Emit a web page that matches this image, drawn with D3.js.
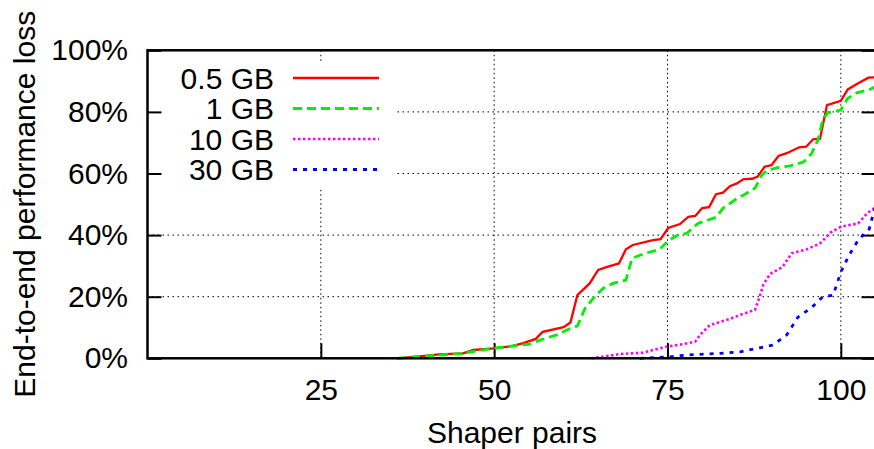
<!DOCTYPE html>
<html>
<head>
<meta charset="utf-8">
<script src="https://cdn.jsdelivr.net/npm/d3@7"></script>
<style>
  html, body { margin: 0; padding: 0; background: #fff; }
  svg { display: block; font-family: "Liberation Sans", Arial, Helvetica, sans-serif; }
</style>
</head>
<body>
<svg id="chart" width="874" height="449"></svg>
<script>
// ---- data ----
const xTicks = [25, 50, 75, 100];
const yTicks = [0, 20, 40, 60, 80, 100];
const seriesNames = ["0.5 GB", "1 GB", "10 GB", "30 GB"];

const gb05X = [36, 40, 42, 45.5, 47, 50, 52.7, 54.2, 56, 57, 60, 61, 62, 63.8, 65, 66.3, 68, 69, 70, 72.9, 74, 75.1, 76.8, 78, 79, 80, 81, 82, 83, 84, 85, 86, 87.2, 88, 89, 90, 91, 92.2, 94, 95, 96, 97, 98, 100, 101, 102.5, 104, 105];
const gb05Y = [0, 0.8, 1.3, 1.6, 2.7, 3.2, 4.0, 4.9, 6.3, 8.6, 10.1, 11.6, 20.5, 24.4, 28.7, 29.7, 30.8, 35.4, 36.8, 38.4, 38.7, 42.3, 43.6, 45.9, 46.2, 48.8, 49.1, 53.3, 53.8, 55.9, 56.8, 58.2, 58.3, 59, 62.2, 62.7, 65.7, 66.6, 68.5, 68.7, 71.1, 71.3, 82.2, 83.6, 87.3, 89.3, 91.1, 91.2];

const gb1X = [36, 40, 45, 49.4, 52.7, 55.2, 56.6, 59, 60.5, 62, 63.1, 64.3, 65.7, 67.2, 69, 69.9, 71.8, 73.9, 75.1, 76.5, 77.8, 79.4, 82, 83, 84.7, 86.2, 87.6, 88.6, 89.3, 90.8, 92.7, 94.6, 95.8, 96.7, 97.4, 98.1, 100, 101, 102.3, 104.2, 105];
const gb1Y = [0, 0.7, 1.5, 3.1, 4.0, 4.6, 5.9, 7.6, 9.2, 10.5, 16.2, 19.5, 22.7, 24.4, 25.4, 32.5, 34.1, 35.4, 38.2, 40, 40.6, 43.8, 45.8, 48.7, 51.4, 53.3, 55.2, 59.5, 60.9, 61.9, 62.5, 63.7, 66.6, 70.9, 77.4, 79.7, 80.6, 84.4, 86.2, 87.3, 88.2];

const gb10X = [64, 66, 68.2, 71.5, 72.9, 74.9, 77.3, 79, 79.7, 81.1, 84, 85.5, 87.6, 88.3, 88.8, 89.8, 91.6, 92.9, 95.1, 97, 98.5, 100, 102.5, 103.8, 105];
const gb10Y = [0, 0.6, 1.4, 1.8, 2.7, 3.8, 4.6, 5.4, 7.6, 10.8, 12.8, 14.1, 15.7, 20, 23.8, 27.4, 29.7, 34.1, 35.4, 37.3, 40.8, 42.7, 43.8, 47.1, 49];

const gb30X = [71, 75, 77.8, 82.6, 85.5, 88.3, 90.2, 92.2, 93.8, 95.8, 97.4, 98.9, 100, 101.2, 102.4, 103.4, 104.1, 104.8, 105];
const gb30Y = [0, 0.4, 1.1, 1.6, 2.1, 3.4, 4.3, 7.6, 13.3, 16.5, 20, 20.5, 28, 33.5, 38, 40.5, 42, 48, 49];

// ---- layout ----
const FS = 30;
const svg = d3.select("#chart");
const L = 147.5, R = 875.5, T = 50.3, B = 358.3;
const x = d3.scaleLinear().domain([0, 105]).range([L, R]);
const y = d3.scaleLinear().domain([0, 100]).range([B, T]);

// grid
const grid = svg.append("g");
grid.selectAll("line.gx").data(xTicks).join("line")
  .attr("x1", d => x(d)).attr("x2", d => x(d)).attr("y1", T).attr("y2", B)
  .attr("stroke", "#000").attr("stroke-width", 1).attr("stroke-dasharray", "1.5,3");
grid.selectAll("line.gy").data(yTicks.filter(d => d > 0 && d < 100)).join("line")
  .attr("x1", L).attr("x2", R).attr("y1", d => y(d)).attr("y2", d => y(d))
  .attr("stroke", "#000").attr("stroke-width", 1).attr("stroke-dasharray", "1.5,3.5");

// opaque key box
svg.append("rect").attr("x", L + 1.5).attr("y", 63).attr("width", 396 - L - 1.5).attr("height", 187 - 63)
  .attr("fill", "#fff");

// axes with inward ticks
const axL = svg.append("g").attr("transform", `translate(${L},0)`)
  .call(d3.axisLeft(y).tickValues(yTicks).tickSize(-14).tickPadding(19.5).tickFormat(d => d + "%"));
const axB = svg.append("g").attr("transform", `translate(0,${B})`)
  .call(d3.axisBottom(x).tickValues(xTicks).tickSize(-15).tickPadding(20));
const axR = svg.append("g").attr("transform", `translate(${R},0)`)
  .call(d3.axisRight(y).tickValues(yTicks).tickSize(-14).tickFormat(""));
[axL, axB, axR].forEach(a => {
  a.select(".domain").remove();
  a.selectAll(".tick line").attr("stroke", "#000").attr("stroke-width", 2);
  a.selectAll(".tick text").attr("fill", "#000").attr("font-size", FS)
    .attr("font-family", "'Liberation Sans', Arial, sans-serif");
});

// series
const styles = [
  { color: "#ff0000", dash: null, w: 2.3 },
  { color: "#00f000", dash: "9,5", w: 2.8 },
  { color: "#ff00ff", dash: "2.5,2.5", w: 2.6 },
  { color: "#0000ff", dash: "4,6", w: 2.8 }
];
const seriesData = [[gb05X, gb05Y], [gb1X, gb1Y], [gb10X, gb10Y], [gb30X, gb30Y]];
svg.append("clipPath").attr("id", "clip").append("rect")
  .attr("x", L).attr("y", T - 2).attr("width", R - L).attr("height", B - T + 4);
const line = d3.line().x(d => x(d[0])).y(d => y(d[1]));
const plot = svg.append("g").attr("clip-path", "url(#clip)");
seriesData.forEach((s, i) => {
  const pts = s[0].map((v, j) => [v, s[1][j]]);
  plot.append("path").datum(pts).attr("d", line)
    .attr("fill", "none").attr("stroke", styles[i].color).attr("stroke-width", styles[i].w)
    .attr("stroke-dasharray", styles[i].dash).attr("stroke-linejoin", "miter");
});

// border
svg.append("rect").attr("x", L).attr("y", T).attr("width", R - L).attr("height", B - T)
  .attr("fill", "none").attr("stroke", "#000").attr("stroke-width", 2.5);

// key
const key = svg.append("g");
seriesNames.forEach((n, i) => {
  const cy = 78 + i * 30.5;
  key.append("text").attr("x", 274).attr("y", cy).attr("dy", "0.35em")
    .attr("text-anchor", "end").attr("font-size", FS).attr("fill", "#000").text(n);
  key.append("line").attr("x1", 293).attr("x2", 379).attr("y1", cy).attr("y2", cy)
    .attr("stroke", styles[i].color).attr("stroke-width", styles[i].w)
    .attr("stroke-dasharray", styles[i].dash);
});

// axis titles
svg.append("text").attr("x", (L + R) / 2 + 0.5).attr("y", 443).attr("text-anchor", "middle")
  .attr("font-size", FS).attr("fill", "#000").text("Shaper pairs");
svg.append("text").attr("transform", `translate(35,${(T + B) / 2}) rotate(-90)`)
  .attr("text-anchor", "middle").attr("font-size", FS).attr("fill", "#000")
  .text("End-to-end performance loss");
</script>
</body>
</html>
